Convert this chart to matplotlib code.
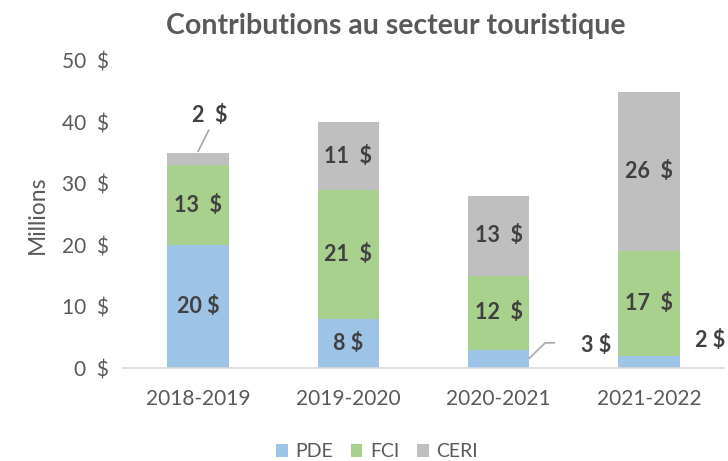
import numpy as np
import matplotlib
matplotlib.use('Agg')
import matplotlib.pyplot as plt

plt.rcParams['font.family'] = ['Lato', 'DejaVu Sans']

years = ['2018-2019', '2019-2020', '2020-2021', '2021-2022']
pde = [20, 8, 3, 2]
fci = [13, 21, 12, 17]
ceri = [2, 11, 13, 26]
yticks = [0, 10, 20, 30, 40, 50]

c_pde = '#9DC3E6'
c_fci = '#A9D18E'
c_ceri = '#BFBFBF'
txt = '#404040'
grey = '#595959'

fig = plt.figure(figsize=(7.28, 4.61), dpi=100)
ax = fig.add_axes([0.169, 0.2017, 0.8255, 0.666])

x = np.arange(len(years))
w = 0.41
pde_a = np.array(pde)
fci_a = np.array(fci)
ceri_a = np.array(ceri)

ax.bar(x, pde_a, w, color=c_pde, label='PDE')
ax.bar(x, fci_a, w, bottom=pde_a, color=c_fci, label='FCI')
ax.bar(x, ceri_a, w, bottom=pde_a + fci_a, color=c_ceri, label='CERI')

lab_kw = dict(ha='center', va='center', fontsize=15.5, fontweight='bold', color=txt)

# labels inside segments
for i in range(len(years)):
    if pde[i] >= 5:
        ax.text(x[i], pde[i] / 2, f'{pde[i]} $', **lab_kw)
    ax.text(x[i], pde[i] + fci[i] / 2, f'{fci[i]}  $', **lab_kw)
    if ceri[i] >= 5:
        ax.text(x[i], pde[i] + fci[i] + ceri[i] / 2, f'{ceri[i]}  $', **lab_kw)

# small segments labelled outside
tot0 = pde[0] + fci[0] + ceri[0]
ax.text(0.08, tot0 + 6.2, f'{ceri[0]}  $', **lab_kw)
ax.plot([0.07, 0.0], [tot0 + 3.7, tot0 + 0.3], color='#A6A6A6', lw=1.2)

ax.text(2.65, 3.6, f'{pde[2]} $', **lab_kw)
ax.plot([2.205, 2.31, 2.37], [pde[2] / 2 + 0.1, 4.1, 4.1], color='#A6A6A6', lw=1.2)

ax.text(3.405, 4.4, f'{pde[3]} $', **lab_kw)

ax.set_xlim(-0.5, 3.5)
ax.set_ylim(0, 50)
ax.set_xticks(x)
ax.set_xticklabels(years, fontsize=15, color=grey)
ax.set_yticks(yticks)
ax.set_yticklabels([f'{v}  $' for v in yticks], fontsize=15, color=grey)
ax.tick_params(length=0, pad=10)
ax.tick_params(axis='x', pad=15)
for s in ['top', 'right', 'left']:
    ax.spines[s].set_visible(False)
ax.spines['bottom'].set_color('#D9D9D9')
ax.spines['bottom'].set_linewidth(1.2)

ax.set_ylabel('Millions', fontsize=16.5, color=grey, labelpad=10)

fig.text(0.543, 0.943, 'Contributions au secteur touristique', ha='center', va='center',
         fontsize=20.5, fontweight='bold', color=grey)

fig.legend(loc='center', bbox_to_anchor=(0.518, 0.02), ncol=3, frameon=False,
           fontsize=14, handlelength=0.6, handleheight=0.6, handletextpad=0.4,
           columnspacing=0.9, labelcolor=grey)

fig.savefig('out.png', dpi=100)
